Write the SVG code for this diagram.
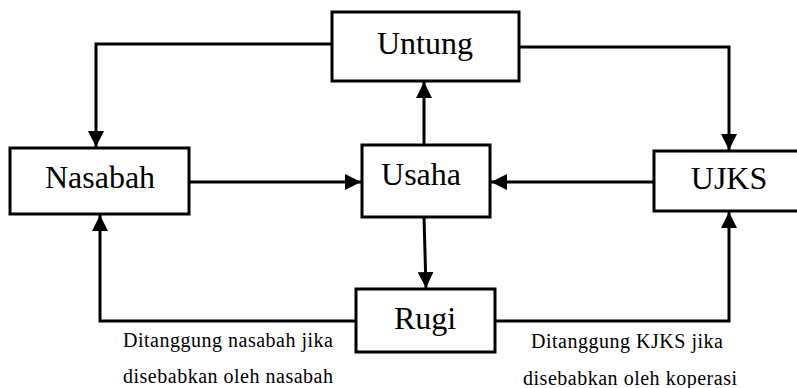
<svg xmlns="http://www.w3.org/2000/svg" width="797" height="388" viewBox="0 0 797 388">
<style>
.box{fill:#fff;stroke:#000;stroke-width:3}
.lbl{font-size:32px;fill:#000;text-anchor:middle}
.note{font-size:20px;fill:#000}
.conn{fill:none;stroke:#000;stroke-width:3;marker-end:url(#arr)}
</style>
<defs>
<marker id="arr" markerUnits="userSpaceOnUse" markerWidth="16" markerHeight="16" refX="16" refY="8" orient="auto">
<path d="M0,0 L16,8 L0,16 z" fill="#000"/>
</marker>
</defs>
<rect width="797" height="388" fill="#fff"/>
<g id="connectors">
<path class="conn" d="M332,44 H96 V147"/>
<path class="conn" d="M519,47 H729 V150"/>
<path class="conn" d="M189,182 H361"/>
<path class="conn" d="M654,182 H491"/>
<path class="conn" d="M424,145 V82"/>
<path class="conn" d="M424,217 L426,288"/>
<path class="conn" d="M356,321 H100 V215"/>
<path class="conn" d="M495,321 H729 V212"/>
</g>
<g font-family="'Liberation Serif', 'DejaVu Serif', serif">
<g id="untung"><rect class="box" x="332" y="12" width="187" height="69"/><text class="lbl" x="425" y="54">Untung</text></g>
<g id="nasabah"><rect class="box" x="10" y="148" width="179" height="66"/><text class="lbl" x="100" y="188">Nasabah</text></g>
<g id="usaha"><rect class="box" x="362" y="145" width="128" height="72"/><text class="lbl" x="421" y="185">Usaha</text></g>
<g id="ujks"><rect class="box" x="654" y="151" width="150" height="60"/><text class="lbl" x="729" y="189">UJKS</text></g>
<g id="rugi"><rect class="box" x="356" y="289" width="139" height="63"/><text class="lbl" x="425" y="329">Rugi</text></g>
<g id="notes">
<text class="note" x="123" y="347" textLength="210" lengthAdjust="spacing">Ditanggung nasabah jika</text>
<text class="note" x="123" y="383" textLength="210" lengthAdjust="spacing">disebabkan oleh nasabah</text>
<text class="note" x="531" y="348" textLength="192" lengthAdjust="spacing">Ditanggung KJKS jika</text>
<text class="note" x="523" y="385" textLength="214" lengthAdjust="spacing">disebabkan oleh koperasi</text>
</g>
</g>
</svg>
